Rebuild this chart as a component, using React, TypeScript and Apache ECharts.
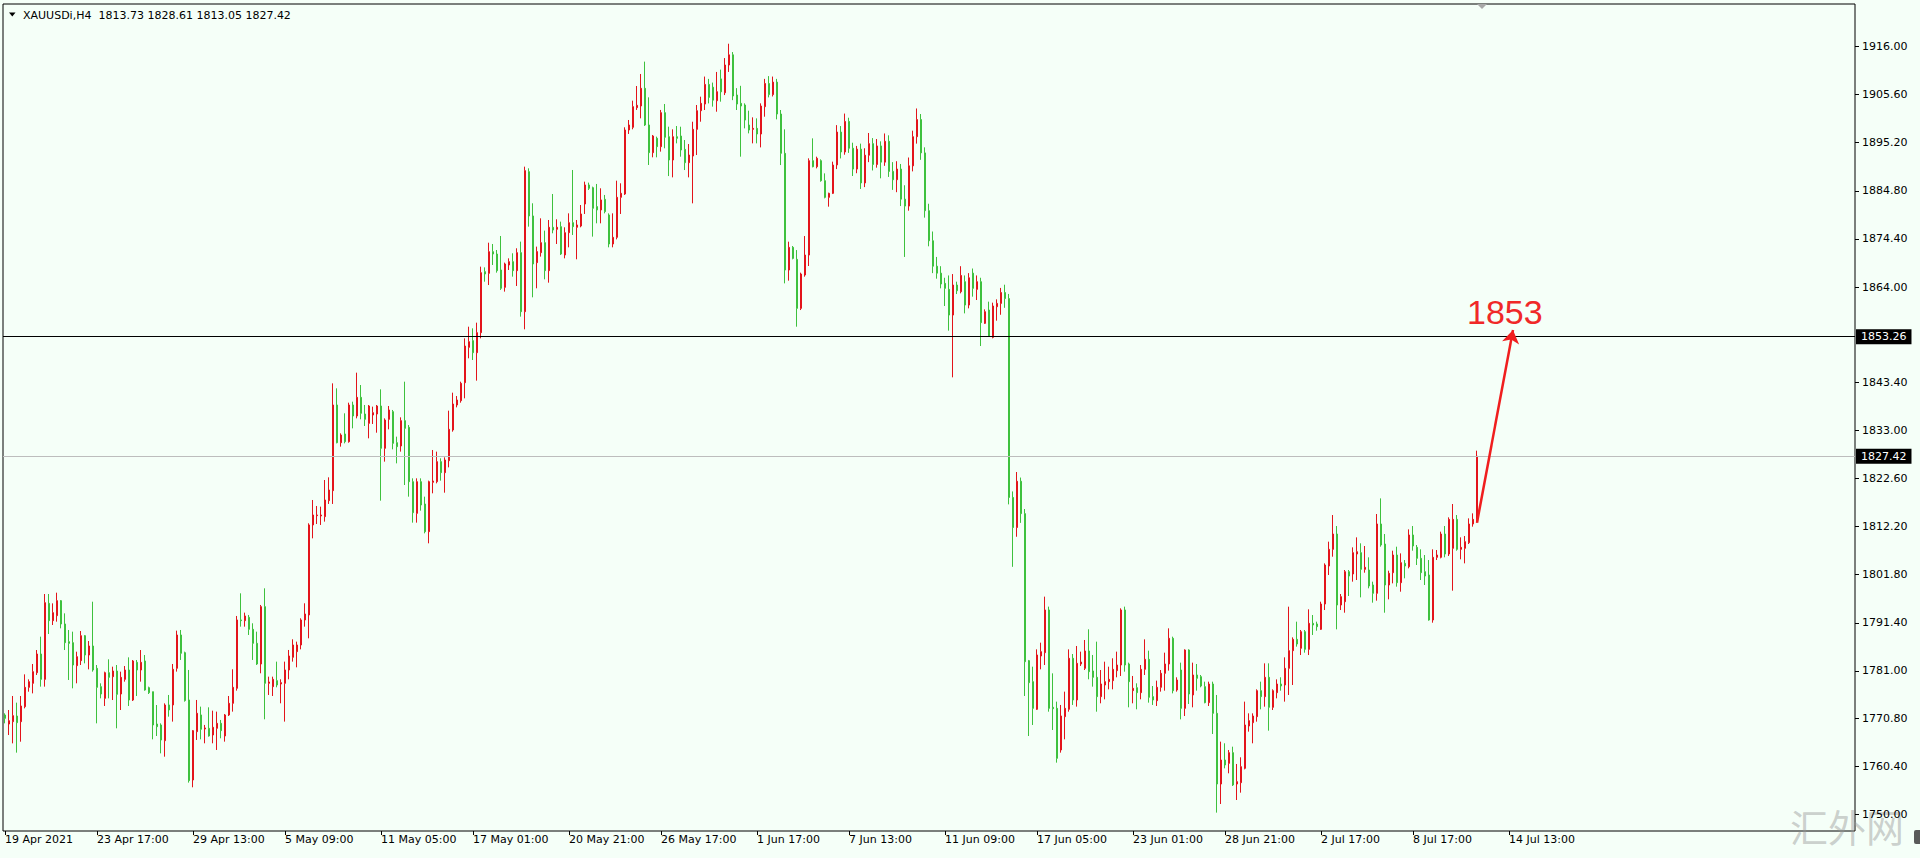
import React, { useEffect, useRef } from 'react';
import * as echarts from 'echarts';

// ---------- header ----------
const symbolName = 'XAUUSDi,H4';
const headerOHLC = ['1813.73', '1828.61', '1813.05', '1827.42'];

// ---------- candles [open, close, low, high] ----------
const candlesApr: number[][] = [
  [1771.46, 1770.74, 1769.66, 1771.82], [1769.51, 1770.23, 1767.13, 1772.54], [1770.02, 1771.32, 1765.33, 1775.57],
  [1771.24, 1769.8, 1763.32, 1774.13], [1770.02, 1773.41, 1765.69, 1775.57], [1773.26, 1777.44, 1772.9, 1780.25],
  [1777.44, 1778.67, 1776.5, 1779.17], [1778.31, 1780.83, 1776.14, 1782.49], [1780.61, 1784.65, 1780.11, 1785.51],
  [1784.65, 1779.17, 1777.59, 1788.4], [1779.17, 1795.75, 1777.59, 1797.62], [1795.6, 1791.86, 1788.97, 1797.62],
  [1791.86, 1793.59, 1790.92, 1795.6], [1792.94, 1796.18, 1791.64, 1797.91], [1796.18, 1791.14, 1790.2, 1796.32],
  [1791.14, 1787.1, 1785.51, 1793.44], [1787.31, 1786.95, 1779.03, 1789.84], [1787.1, 1782.27, 1777.23, 1789.48],
  [1782.13, 1784.07, 1778.31, 1785.15], [1783.21, 1788.61, 1782.27, 1789.62], [1788.61, 1784.43, 1782.63, 1788.76],
  [1784.43, 1786.38, 1781.33, 1787.46], [1786.38, 1781.19, 1780.83, 1795.96], [1781.55, 1777.44, 1769.66, 1782.27],
  [1777.59, 1776.0, 1775.06, 1778.31], [1775.06, 1780.61, 1773.41, 1780.83], [1780.61, 1779.6, 1775.06, 1783.5],
  [1779.75, 1780.97, 1774.7, 1781.91], [1780.97, 1775.93, 1768.58, 1782.27], [1776.0, 1779.6, 1772.54, 1780.83],
  [1779.17, 1781.19, 1778.67, 1782.05], [1781.19, 1774.7, 1773.41, 1783.93], [1774.7, 1783.14, 1774.49, 1783.35],
  [1782.85, 1781.19, 1775.57, 1783.35], [1781.19, 1782.85, 1778.67, 1785.51], [1783.14, 1776.86, 1776.72, 1784.43],
  [1777.37, 1776.29, 1776.0, 1777.59], [1776.5, 1769.3, 1766.2, 1776.5], [1769.51, 1768.94, 1766.92, 1773.62],
  [1769.3, 1766.05, 1763.17, 1769.66], [1765.91, 1773.62, 1762.45, 1773.98], [1773.63, 1772.55, 1771.1, 1775.79],
  [1773.63, 1781.34, 1770.03, 1782.49], [1781.56, 1788.76, 1780.84, 1789.7], [1788.76, 1784.8, 1783.36, 1789.84],
  [1784.94, 1774.57, 1774.35, 1785.16], [1774.71, 1757.27, 1756.84, 1781.2], [1757.41, 1768.08, 1755.83, 1768.22],
  [1767.86, 1771.83, 1766.06, 1774.71], [1771.47, 1768.37, 1766.2, 1773.27], [1768.44, 1768.66, 1765.34, 1769.31],
  [1768.58, 1766.93, 1766.78, 1773.12], [1767.14, 1768.8, 1765.34, 1772.4], [1768.58, 1769.66, 1763.9, 1772.19],
  [1769.66, 1768.08, 1766.42, 1770.39], [1766.93, 1771.47, 1765.7, 1771.68], [1771.47, 1773.99, 1771.25, 1775.57],
  [1773.99, 1777.45, 1772.19, 1781.34], [1777.23, 1792.01, 1776.73, 1792.87], [1792.01, 1791.86, 1790.56, 1797.77],
];

const candlesMayA: number[][] = [
  [1791.86, 1792.87, 1790.56, 1793.59], [1792.58, 1789.99, 1788.76, 1793.09], [1789.99, 1786.96, 1783.36, 1791.29],
  [1786.96, 1782.49, 1782.28, 1789.48], [1782.49, 1794.89, 1780.48, 1795.25], [1794.89, 1778.31, 1770.53, 1798.85],
  [1778.31, 1778.6, 1775.79, 1779.75], [1777.59, 1779.18, 1775.57, 1779.75], [1778.89, 1777.95, 1777.45, 1783.0],
  [1778.17, 1778.46, 1773.99, 1779.18], [1778.31, 1781.2, 1770.03, 1783.0], [1781.2, 1784.22, 1779.18, 1785.52],
  [1783.94, 1786.6, 1783.0, 1787.83], [1785.16, 1786.6, 1781.77, 1787.32], [1786.6, 1792.01, 1785.66, 1792.37],
  [1792.01, 1793.3, 1790.56, 1795.61], [1793.09, 1812.55, 1788.04, 1812.91], [1812.55, 1814.71, 1809.66, 1817.95],
  [1814.56, 1814.71, 1812.76, 1816.65], [1814.5, 1814.7, 1812.55, 1816.51], [1814.35, 1817.95, 1813.27, 1822.27],
  [1817.81, 1820.11, 1817.09, 1822.85], [1819.97, 1838.49, 1817.09, 1843.17], [1838.49, 1830.34, 1830.2, 1842.09],
  [1830.34, 1832.0, 1829.48, 1832.36], [1832.22, 1830.56, 1830.2, 1836.69], [1830.56, 1838.49, 1830.34, 1838.99],
  [1838.49, 1836.11, 1833.44, 1839.21], [1836.11, 1840.14, 1835.6, 1845.48], [1840.14, 1836.69, 1835.39, 1842.81],
  [1836.54, 1835.39, 1833.95, 1838.49], [1834.52, 1838.27, 1831.28, 1838.49], [1836.32, 1836.83, 1834.38, 1838.13],
  [1836.54, 1838.27, 1832.5, 1838.49], [1838.27, 1829.12, 1817.8, 1841.87], [1829.12, 1835.24, 1826.24, 1835.6],
  [1835.39, 1837.41, 1833.23, 1838.27], [1837.05, 1830.2, 1828.9, 1837.41], [1830.34, 1829.48, 1825.87, 1831.64],
  [1829.62, 1835.1, 1828.4, 1835.82], [1835.1, 1833.44, 1821.19, 1843.53], [1833.66, 1821.91, 1818.67, 1834.16],
  [1821.91, 1815.21, 1813.05, 1822.63], [1815.06, 1821.91, 1813.05, 1822.63], [1821.91, 1816.87, 1815.64, 1822.63],
  [1817.08, 1811.1, 1810.74, 1818.67], [1811.1, 1821.91, 1808.58, 1822.13], [1821.77, 1822.05, 1819.39, 1828.76],
  [1821.91, 1826.24, 1821.55, 1828.4], [1826.24, 1823.86, 1822.13, 1826.96], [1823.86, 1826.6, 1819.53, 1827.17],
  [1826.45, 1833.23, 1825.01, 1837.26], [1833.08, 1838.7, 1832.72, 1841.15], [1838.49, 1839.57, 1837.98, 1840.43],
  [1839.42, 1843.17, 1838.99, 1843.53], [1843.31, 1851.24, 1839.93, 1852.9], [1850.95, 1852.18, 1848.58, 1855.42],
  [1852.4, 1849.8, 1848.22, 1855.06], [1849.8, 1854.13, 1843.75, 1856.29], [1854.13, 1867.1, 1852.9, 1868.4],
];

const candlesMayB: number[][] = [
  [1867.32, 1866.81, 1865.15, 1868.25], [1866.96, 1871.64, 1864.43, 1873.58], [1871.64, 1871.13, 1868.76, 1873.3],
  [1871.13, 1867.53, 1867.1, 1872.0], [1867.68, 1863.72, 1863.36, 1875.03], [1863.93, 1868.98, 1863.0, 1869.27],
  [1868.76, 1869.48, 1867.68, 1870.2], [1869.48, 1867.54, 1866.24, 1871.29], [1867.54, 1871.43, 1864.22, 1872.37],
  [1871.43, 1858.67, 1857.59, 1873.81], [1858.67, 1889.16, 1854.85, 1890.02], [1888.94, 1879.36, 1877.05, 1889.66],
  [1879.36, 1868.98, 1861.77, 1882.1], [1869.27, 1871.65, 1863.72, 1872.73], [1871.43, 1873.59, 1870.57, 1878.85],
  [1873.59, 1867.54, 1865.66, 1876.19], [1867.54, 1876.91, 1864.94, 1878.49], [1876.91, 1876.33, 1875.61, 1884.11],
  [1876.48, 1876.91, 1873.3, 1878.64], [1877.05, 1871.14, 1870.93, 1878.13], [1870.93, 1875.75, 1870.2, 1876.91],
  [1875.75, 1877.91, 1872.58, 1879.93], [1877.91, 1877.05, 1875.25, 1889.3], [1876.91, 1877.41, 1869.99, 1878.49],
  [1877.19, 1879.79, 1876.91, 1881.73], [1881.95, 1886.06, 1879.79, 1886.78], [1886.06, 1885.34, 1884.98, 1886.57],
  [1885.48, 1881.02, 1874.89, 1885.7], [1881.38, 1880.66, 1877.77, 1886.28], [1880.66, 1882.82, 1877.77, 1885.34],
  [1882.96, 1880.3, 1879.93, 1883.9], [1879.57, 1873.3, 1872.58, 1879.93], [1873.3, 1874.74, 1872.58, 1879.93],
  [1874.74, 1883.39, 1874.31, 1886.99], [1883.39, 1884.26, 1879.79, 1886.42], [1884.11, 1897.95, 1883.9, 1898.53],
  [1897.95, 1899.03, 1897.09, 1900.11], [1898.53, 1903.0, 1898.1, 1904.29], [1902.78, 1903.28, 1902.28, 1907.46],
  [1903.14, 1906.96, 1900.47, 1910.06], [1906.96, 1899.03, 1898.82, 1912.73], [1899.03, 1893.05, 1890.38, 1905.01],
  [1893.05, 1896.65, 1892.04, 1896.87], [1896.15, 1894.35, 1892.04, 1896.51], [1894.35, 1901.7, 1893.27, 1902.28],
  [1901.7, 1896.37, 1893.99, 1903.57], [1896.5, 1891.46, 1887.99, 1898.66], [1891.46, 1896.5, 1887.71, 1898.09],
  [1896.5, 1896.14, 1895.06, 1898.81], [1896.64, 1893.62, 1892.18, 1898.66], [1893.76, 1890.88, 1889.29, 1895.78],
  [1890.88, 1892.54, 1887.71, 1894.91], [1892.32, 1898.09, 1882.09, 1899.74], [1898.09, 1902.12, 1892.54, 1903.35],
  [1902.12, 1903.71, 1899.74, 1905.15], [1903.56, 1907.8, 1902.27, 1909.5], [1907.8, 1905.0, 1903.7, 1909.0],
  [1907.2, 1904.4, 1903.0, 1908.2], [1904.28, 1906.23, 1901.9, 1910.5], [1909.0, 1906.2, 1904.07, 1911.0],
];

const candlesJunA: number[][] = [
  [1906.0, 1912.0, 1905.5, 1913.5], [1912.0, 1914.2, 1910.5, 1916.6], [1914.2, 1905.3, 1904.4, 1914.8],
  [1905.51, 1903.56, 1902.27, 1907.0], [1903.71, 1903.13, 1892.18, 1907.5], [1903.35, 1900.1, 1898.3, 1903.71],
  [1899.02, 1897.94, 1897.22, 1902.12], [1898.09, 1898.3, 1895.06, 1900.68], [1898.3, 1897.08, 1895.06, 1900.46],
  [1897.08, 1903.13, 1894.19, 1903.71], [1902.99, 1908.0, 1900.82, 1909.0], [1908.0, 1905.6, 1905.0, 1909.6],
  [1905.6, 1908.3, 1905.2, 1909.5], [1908.3, 1901.4, 1900.25, 1909.0], [1901.4, 1892.9, 1890.37, 1902.27],
  [1892.9, 1867.67, 1864.79, 1898.09], [1867.67, 1872.57, 1865.37, 1873.8], [1872.57, 1870.19, 1869.98, 1872.86],
  [1869.98, 1859.38, 1855.42, 1871.99], [1859.38, 1866.81, 1859.02, 1867.1], [1866.59, 1870.91, 1866.23, 1875.02],
  [1870.91, 1891.31, 1868.54, 1891.82], [1891.31, 1890.01, 1889.87, 1896.14], [1890.01, 1891.82, 1889.65, 1892.18],
  [1891.31, 1886.99, 1886.77, 1891.6], [1886.99, 1883.38, 1883.17, 1888.57], [1883.38, 1884.25, 1881.37, 1884.39],
  [1884.25, 1890.37, 1884.1, 1891.1], [1890.4, 1897.5, 1889.5, 1899.0], [1897.5, 1893.2, 1891.8, 1898.8],
  [1893.2, 1899.8, 1892.6, 1901.5], [1899.8, 1894.0, 1893.0, 1900.6], [1894.0, 1889.5, 1888.0, 1895.2],
  [1889.5, 1893.8, 1888.6, 1894.5], [1893.8, 1886.5, 1885.2, 1895.0], [1886.5, 1892.5, 1885.6, 1894.0],
  [1892.5, 1895.0, 1891.0, 1897.3], [1895.0, 1890.5, 1889.2, 1896.2], [1890.5, 1894.5, 1889.8, 1896.0],
  [1894.5, 1891.0, 1887.5, 1895.5], [1891.0, 1895.5, 1890.2, 1897.2], [1895.5, 1889.0, 1887.8, 1896.8],
  [1889.0, 1887.2, 1885.0, 1891.0], [1887.2, 1889.5, 1884.5, 1891.2], [1889.5, 1883.0, 1881.5, 1890.6],
  [1883.0, 1881.5, 1870.5, 1886.0], [1881.5, 1890.2, 1880.5, 1892.0], [1890.2, 1896.5, 1889.0, 1897.8],
  [1896.5, 1900.2, 1895.0, 1902.6], [1900.2, 1893.0, 1891.5, 1901.4], [1893.0, 1880.5, 1879.0, 1894.2],
  [1880.5, 1874.0, 1872.8, 1882.0], [1874.0, 1868.5, 1867.0, 1876.0], [1868.5, 1867.0, 1865.8, 1870.5],
  [1867.0, 1864.65, 1863.71, 1868.5], [1864.79, 1863.71, 1859.89, 1866.0], [1863.49, 1857.94, 1854.56, 1866.5],
  [1857.94, 1864.43, 1844.47, 1866.8], [1864.43, 1863.2, 1862.48, 1865.15], [1862.99, 1866.5, 1862.63, 1868.5],
];

const candlesJunB: number[][] = [
  [1865.15, 1860.1, 1858.3, 1866.5], [1860.1, 1866.0, 1859.38, 1867.0], [1867.0, 1863.71, 1861.91, 1868.0],
  [1863.49, 1865.15, 1861.19, 1866.5], [1865.15, 1856.29, 1851.24, 1866.0], [1856.14, 1858.66, 1856.0, 1859.17],
  [1859.02, 1853.4, 1853.26, 1860.83], [1853.11, 1859.89, 1852.9, 1860.61], [1859.74, 1860.46, 1856.72, 1861.33],
  [1860.46, 1862.8, 1858.0, 1863.8], [1862.8, 1861.5, 1859.5, 1864.5], [1861.5, 1818.5, 1817.0, 1862.5],
  [1818.5, 1812.0, 1803.5, 1819.8], [1812.0, 1822.0, 1810.0, 1824.0], [1822.0, 1815.0, 1813.0, 1822.8],
  [1815.0, 1782.99, 1775.57, 1816.0], [1783.21, 1778.45, 1766.92, 1783.36], [1778.67, 1772.9, 1769.3, 1781.91],
  [1772.69, 1784.44, 1772.55, 1785.66], [1784.22, 1785.16, 1781.34, 1787.1], [1784.94, 1794.17, 1782.27, 1797.05],
  [1794.17, 1772.9, 1772.18, 1794.89], [1773.12, 1772.83, 1768.22, 1780.47], [1772.9, 1762.09, 1761.16, 1774.35],
  [1763.9, 1771.25, 1763.32, 1773.63], [1771.1, 1772.9, 1766.2, 1776.51], [1772.69, 1783.72, 1772.18, 1785.66],
  [1783.72, 1774.71, 1773.63, 1784.65], [1774.71, 1782.63, 1773.27, 1786.38], [1782.49, 1782.92, 1782.06, 1785.16],
  [1781.55, 1785.3, 1781.19, 1787.68], [1785.3, 1780.83, 1779.18, 1789.99], [1780.98, 1779.61, 1777.59, 1784.44],
  [1779.61, 1775.43, 1772.18, 1787.32], [1775.43, 1778.17, 1773.99, 1781.19], [1777.95, 1778.67, 1774.85, 1782.99],
  [1778.67, 1779.18, 1777.01, 1781.91], [1778.89, 1781.34, 1777.01, 1783.72], [1781.05, 1782.27, 1779.61, 1785.16],
  [1782.27, 1794.17, 1779.9, 1794.53], [1794.17, 1782.27, 1780.83, 1794.89], [1782.49, 1778.67, 1773.12, 1782.78],
  [1776.73, 1777.23, 1773.99, 1779.9], [1777.37, 1776.29, 1772.69, 1778.31], [1776.29, 1781.34, 1774.85, 1782.27],
  [1781.34, 1783.5, 1780.11, 1787.82], [1783.5, 1775.28, 1774.13, 1785.37], [1775.43, 1774.71, 1773.63, 1777.73],
  [1774.56, 1777.45, 1773.41, 1778.89], [1777.45, 1780.47, 1776.51, 1781.19], [1780.47, 1782.49, 1776.72, 1784.94],
  [1782.49, 1788.04, 1781.05, 1790.2], [1788.04, 1776.72, 1776.14, 1788.4], [1776.87, 1779.03, 1776.51, 1779.61],
  [1781.19, 1772.9, 1770.52, 1782.78], [1772.9, 1785.51, 1771.24, 1785.66], [1785.51, 1776.0, 1773.84, 1785.66],
  [1775.79, 1780.11, 1773.12, 1782.78], [1780.11, 1779.39, 1776.72, 1782.49], [1779.75, 1777.73, 1777.45, 1780.11],
];

const candlesJul: number[][] = [
  [1777.59, 1774.13, 1773.99, 1778.67], [1774.13, 1778.16, 1773.41, 1778.67], [1778.16, 1771.82, 1767.35, 1778.67],
  [1771.82, 1756.54, 1750.35, 1775.79], [1756.54, 1761.73, 1752.22, 1765.7], [1761.73, 1760.65, 1759.93, 1765.34],
  [1761.01, 1763.32, 1758.85, 1763.89], [1763.32, 1756.33, 1756.11, 1764.61], [1756.54, 1757.05, 1753.08, 1760.87],
  [1756.83, 1760.29, 1754.67, 1762.31], [1759.93, 1769.3, 1759.71, 1774.35], [1769.08, 1770.24, 1767.86, 1771.82],
  [1769.8, 1771.24, 1765.34, 1771.82], [1771.1, 1776.72, 1770.02, 1777.01], [1776.72, 1775.43, 1772.69, 1778.67],
  [1775.43, 1779.61, 1773.26, 1782.63], [1779.61, 1773.12, 1768.07, 1782.63], [1773.12, 1776.72, 1772.54, 1777.01],
  [1776.29, 1778.16, 1775.06, 1779.17], [1778.16, 1777.73, 1776.72, 1779.61], [1777.95, 1781.55, 1774.35, 1783.93],
  [1781.55, 1785.37, 1775.79, 1794.88], [1785.37, 1787.82, 1777.95, 1788.25], [1787.82, 1786.81, 1786.24, 1791.64],
  [1785.88, 1789.48, 1784.43, 1789.84], [1789.48, 1785.66, 1784.94, 1789.84], [1785.66, 1791.28, 1784.43, 1794.31],
  [1791.28, 1790.92, 1788.76, 1793.08], [1791.14, 1790.56, 1789.69, 1791.64], [1789.98, 1795.46, 1789.84, 1795.96],
  [1795.46, 1803.89, 1794.16, 1804.25], [1803.68, 1807.28, 1801.73, 1808.94], [1807.28, 1810.59, 1805.69, 1814.7],
  [1810.59, 1795.24, 1789.98, 1812.32], [1795.24, 1797.05, 1794.16, 1797.62], [1795.96, 1802.45, 1793.58, 1802.81],
  [1802.45, 1801.51, 1797.19, 1802.81], [1801.95, 1806.56, 1800.29, 1807.71], [1806.27, 1806.77, 1800.65, 1809.87],
  [1806.56, 1802.95, 1796.9, 1808.58], [1802.95, 1803.39, 1802.23, 1808.0], [1802.81, 1799.35, 1798.85, 1805.55],
  [1799.57, 1797.77, 1795.75, 1800.29], [1797.77, 1812.76, 1796.18, 1814.92], [1812.76, 1808.22, 1807.85, 1818.3],
  [1808.43, 1799.57, 1793.58, 1810.59], [1799.57, 1802.09, 1796.47, 1802.66], [1802.23, 1806.05, 1799.93, 1806.99],
  [1806.05, 1800.07, 1799.21, 1807.85], [1800.07, 1804.4, 1798.12, 1806.41], [1804.25, 1803.68, 1801.01, 1804.97],
  [1803.53, 1810.38, 1803.17, 1811.6], [1810.38, 1808.0, 1806.99, 1812.32], [1807.71, 1805.33, 1803.89, 1808.22],
  [1805.33, 1802.23, 1800.65, 1807.28], [1802.45, 1801.51, 1799.57, 1806.05], [1801.73, 1792.0, 1791.86, 1804.97],
  [1792.0, 1805.55, 1791.42, 1807.28], [1805.55, 1806.05, 1804.97, 1807.13], [1805.55, 1810.59, 1805.33, 1811.1],
  [1810.59, 1806.27, 1805.55, 1812.32], [1806.27, 1813.76, 1805.84, 1814.2], [1807.5, 1813.76, 1798.34, 1817.08],
  [1813.76, 1807.28, 1806.99, 1814.7], [1807.28, 1807.71, 1805.12, 1809.87], [1807.5, 1808.94, 1804.25, 1810.16],
  [1808.72, 1812.76, 1808.43, 1813.98], [1812.76, 1813.76, 1812.18, 1815.06], [1813.73, 1827.42, 1813.05, 1828.61],
];

const candles = [...candlesApr, ...candlesMayA, ...candlesMayB, ...candlesJunA, ...candlesJunB, ...candlesJul];

// ---------- axes ----------
const slotCount = 463; // bar slots incl. the shifted empty area on the right
const slots = Array.from({ length: slotCount }, (_, i) => String(i));

const timeTickIndex = [0, 23, 47, 70, 94, 117, 141, 164, 188, 211, 235, 258, 282, 305, 329, 352, 376];
const timeTickLabels = [
  '19 Apr 2021', '23 Apr 17:00', '29 Apr 13:00', '5 May 09:00', '11 May 05:00', '17 May 01:00',
  '20 May 21:00', '26 May 17:00', '1 Jun 17:00', '7 Jun 13:00', '11 Jun 09:00', '17 Jun 05:00',
  '23 Jun 01:00', '28 Jun 21:00', '2 Jul 17:00', '8 Jul 17:00', '14 Jul 13:00',
];
const priceTicks = [
  1916.0, 1905.6, 1895.2, 1884.8, 1874.4, 1864.0, 1843.4, 1833.0, 1822.6,
  1812.2, 1801.8, 1791.4, 1781.0, 1770.8, 1760.4, 1750.0,
];
const yMin = 1746.38;
const yMax = 1925.19;

// ---------- annotations ----------
const resistanceLevel = 1853.26;
const lastPrice = 1827.42;
const targetText = '1853';
const arrowFrom = { index: 368, price: 1813.05 };
const arrowTo = { index: 377, price: 1854.7 };

const BG = '#F5FFF8';
const RED = '#E3141B';
const GREEN = '#3EC13E';
const FONT = 'DejaVu Sans';

export default function App() {
  const ref = useRef<HTMLDivElement>(null);

  useEffect(() => {
    document.body.style.margin = '0';
    const chart = echarts.init(ref.current as HTMLDivElement, null, { renderer: 'svg' });
    const tickMap = new Map<number, string>(timeTickIndex.map((v, k) => [v, timeTickLabels[k]]));
    const priceBox = {
      show: true,
      position: 'end',
      distance: 1,
      backgroundColor: '#000',
      color: '#fff',
      padding: [2, 5, 1, 5],
      fontFamily: FONT,
      fontSize: 11,
      lineHeight: 12,
    };

    chart.setOption({
      animation: false,
      backgroundColor: BG,
      grid: {
        left: 3, right: 65, top: 4, bottom: 27,
        show: true, borderColor: '#000', borderWidth: 1,
        outerBoundsMode: 'none',
      },
      xAxis: {
        type: 'category',
        data: slots,
        boundaryGap: true,
        axisLine: { show: false },
        axisTick: {
          show: true,
          alignWithLabel: true,
          interval: (i: number) => tickMap.has(i),
          length: 4,
          lineStyle: { color: '#000' },
        },
        axisLabel: {
          interval: (i: number) => tickMap.has(i),
          formatter: (_v: string, i: number) => tickMap.get(i) ?? '',
          align: 'left',
          margin: 3,
          color: '#000',
          fontFamily: FONT,
          fontSize: 11,
        },
        splitLine: { show: false },
      },
      yAxis: {
        type: 'value',
        position: 'right',
        min: yMin,
        max: yMax,
        axisLine: { show: false },
        axisTick: { show: true, customValues: priceTicks, length: 4, lineStyle: { color: '#000' } },
        axisLabel: {
          customValues: priceTicks,
          formatter: (v: number) => v.toFixed(2),
          margin: 7,
          color: '#000',
          fontFamily: FONT,
          fontSize: 11,
        },
        splitLine: { show: false },
      },
      series: [
        {
          type: 'candlestick',
          data: candles,
          barWidth: 2,
          itemStyle: { color: RED, color0: GREEN, borderColor: RED, borderColor0: GREEN, borderWidth: 1 },
          markLine: {
            silent: true,
            symbol: 'none',
            animation: false,
            data: [
              {
                yAxis: resistanceLevel,
                lineStyle: { color: '#000', width: 1, type: 'solid' },
                label: { ...priceBox, formatter: resistanceLevel.toFixed(2) },
              },
              {
                yAxis: lastPrice,
                lineStyle: { color: '#BDBDBD', width: 1, type: 'solid' },
                label: { ...priceBox, formatter: lastPrice.toFixed(2) },
              },
            ],
          },
        },
        {
          type: 'line',
          data: [],
          markLine: {
            silent: true,
            animation: false,
            symbol: ['none', 'arrow'],
            symbolSize: 13,
            lineStyle: { color: '#F01E1E', width: 2.5, type: 'solid' },
            label: { show: false },
            data: [
              [
                { coord: [slots[arrowFrom.index], arrowFrom.price] },
                { coord: [slots[arrowTo.index], arrowTo.price] },
              ],
            ],
          },
        },
      ],
    });

    const tip = chart.convertToPixel({ xAxisIndex: 0, yAxisIndex: 0 }, [slots[arrowTo.index], arrowTo.price]) as number[];

    chart.setOption({
      graphic: [
        {
          type: 'polygon',
          shape: { points: [[9, 12.5], [15.5, 12.5], [12.25, 16.5]] },
          style: { fill: '#000' },
        },
        {
          type: 'text',
          x: 23,
          y: 15,
          style: {
            text: symbolName + '  ' + headerOHLC.join(' '),
            font: '11px "DejaVu Sans"',
            fill: '#000',
            textVerticalAlign: 'middle',
            verticalAlign: 'middle',
          },
        },
        {
          type: 'polygon',
          shape: { points: [[1477, 4], [1487, 4], [1482, 9]] },
          style: { fill: '#A8A8A8' },
        },
        {
          type: 'text',
          x: tip[0] - 46,
          y: tip[1] - 18,
          style: {
            text: targetText,
            font: '34px "Liberation Sans"',
            fill: '#F02828',
            textVerticalAlign: 'middle',
            verticalAlign: 'middle',
          },
        },
        {
          type: 'text',
          x: 1790,
          y: 825,
          style: {
            text: '汇外网',
            font: '38px "Noto Sans CJK SC"',
            fill: 'rgba(150,150,150,0.45)',
            textVerticalAlign: 'middle',
            verticalAlign: 'middle',
          },
        },
        {
          type: 'rect',
          shape: { x: 1914, y: 830, width: 8, height: 14, r: 2 },
          style: { fill: '#5A5A5A' },
        },
      ],
    });

    return () => chart.dispose();
  }, []);

  return <div ref={ref} style={{ width: 1920, height: 858 }} />;
}
